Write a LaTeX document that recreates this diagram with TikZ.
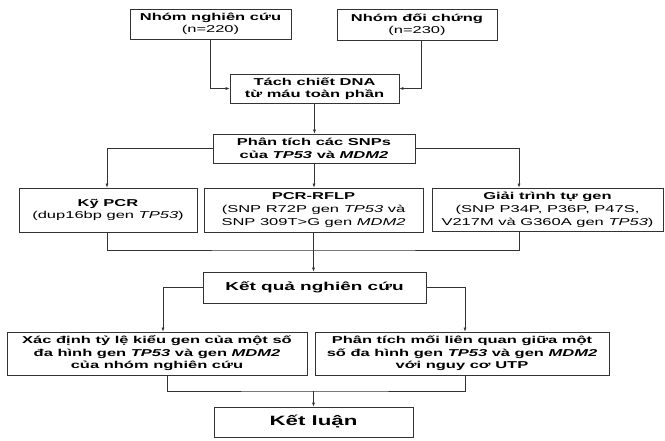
\documentclass[tikz,border=0pt]{standalone}
\usepackage{fontspec}
\setmainfont{Liberation Sans}[FakeStretch=1.65]
\usetikzlibrary{arrows.meta, calc}

\tikzset{
    box/.style={draw=black!80, line width=0.7pt, align=center, inner sep=0pt,
        font=\fontsize{10}{12.5}\selectfont},
    arr/.style={draw=black!80, line width=0.6pt, -{Latex[length=4pt,width=3pt]}},
    ln/.style={draw=black!80, line width=0.6pt}
}

\begin{document}
\begin{tikzpicture}[x=1pt,y=1pt]
        \useasboundingbox (0,0) rectangle (665,-440);

        \node[box, minimum width=161, minimum height=30] (nnc) at (210.5,-24) {\textbf{Nhóm nghiên cứu}\\(n=220)};
        \node[box, minimum width=160, minimum height=31] (ndc) at (417,-24.5) {\textbf{Nhóm đối chứng}\\(n=230)};
        \node[box, minimum width=169, minimum height=29] (tach) at (314.5,-88.5) {\bfseries Tách chiết DNA\\\bfseries từ máu toàn phần};
        \node[box, minimum width=202, minimum height=29] (snp) at (314,-148.5) {\bfseries Phân tích các SNPs\\\bfseries của \textit{TP53} và \textit{MDM2}};

        \node[box, minimum width=178, minimum height=44] (ky) at (108,-210) {\textbf{Kỹ PCR}\\(dup16bp gen \textit{TP53})};
        \node[box, minimum width=219, minimum height=44, font=\fontsize{10}{13}\selectfont] (rflp) at (313.5,-210) {\textbf{PCR-RFLP}\\(SNP R72P gen \textit{TP53} và\\SNP 309T>G gen \textit{MDM2}};
        \node[box, minimum width=231, minimum height=43, font=\fontsize{10}{13}\selectfont] (giai) at (547.5,-209.5) {\textbf{Giải trình tự gen}\\(SNP P34P, P36P, P47S,\\V217M và G360A gen \textit{TP53})};

        \node[box, minimum width=223, minimum height=31, font=\fontsize{11.5}{14}\selectfont\bfseries] (kq) at (314.5,-287.5) {Kết quả nghiên cứu};

        \node[box, minimum width=300, minimum height=43, font=\fontsize{10}{12.5}\selectfont\bfseries] (xac) at (157,-353.5) {Xác định tỷ lệ kiểu gen của một số\\đa hình gen \textit{TP53} và gen \textit{MDM2}\\của nhóm nghiên cứu};
        \node[box, minimum width=294, minimum height=43, font=\fontsize{10}{12.5}\selectfont\bfseries] (pt) at (462,-353.5) {Phân tích mối liên quan giữa một\\số đa hình gen \textit{TP53} và gen \textit{MDM2}\\với nguy cơ UTP};

        \node[box, minimum width=199, minimum height=30, font=\fontsize{13.5}{16}\selectfont\bfseries] (kl) at (313.5,-422) {Kết luận};

        \coordinate (m1) at (313.5,-250);
        \coordinate (m2) at (313.5,-391);

        \draw[arr] (nnc.south) |- (tach.west);
        \draw[arr] ([xshift=4pt]ndc.south) |- (tach.east);
        \draw[arr] (tach.south) -- (tach.south |- snp.north);

        \draw[arr] (snp.west) -| ([xshift=-1pt]ky.north);
        \draw[arr] (snp.south) -- (snp.south |- rflp.north);
        \draw[arr] (snp.east) -| ([xshift=-28.5pt]giai.north);

        \draw[ln] ([xshift=-1pt]ky.south) |- (m1) -| ([xshift=-28.5pt]giai.south);
        \draw[ln] (rflp.south) -- (m1);
        \draw[arr] (m1) -- (m1 |- kq.north);

        \draw[arr] (kq.west) -| ([xshift=6pt]xac.north);
        \draw[arr] (kq.east) -| ([xshift=3pt]pt.north);

        \draw[ln] ([xshift=10pt]xac.south) |- (m2) -| ([xshift=3pt]pt.south);
        \draw[arr] (m2) -- (kl.north);

    \end{tikzpicture}
\end{document}
